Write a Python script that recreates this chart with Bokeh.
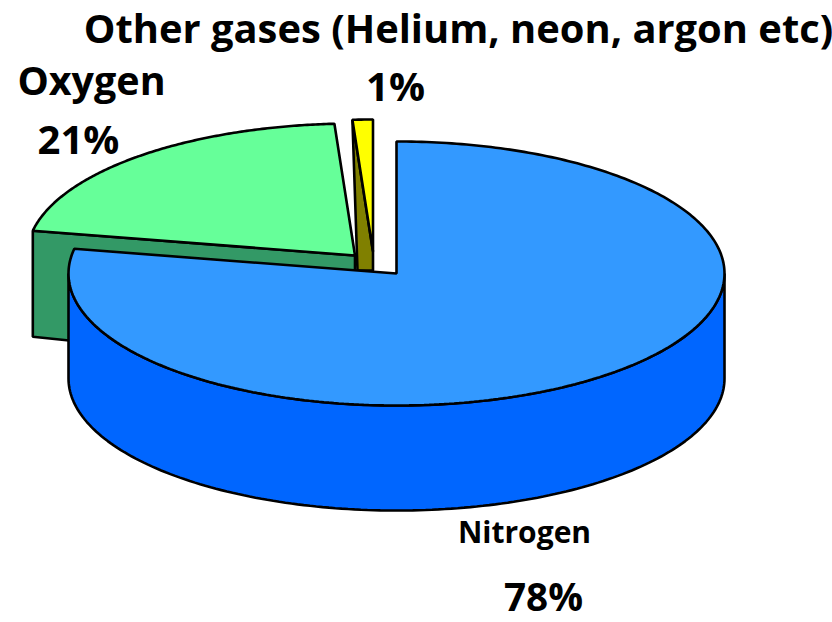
import numpy as np
from bokeh.plotting import figure
from bokeh.embed import file_html
from bokeh.resources import INLINE
from bokeh.core.properties import value
from bokeh.models import Range1d

names = ["Nitrogen", "Oxygen", "Other gases (Helium, neon, argon etc)"]
shares = [78, 21, 1]
top_colors = ["#3399FF", "#66FF99", "#FFFF00"]
side_colors = ["#0066FF", "#339966", "#808000"]
label_texts = ["Nitrogen", "78%", "Oxygen", "21%", "Other gases (Helium, neon, argon etc)", "1%"]

W, H = 832, 622
p = figure(width=W, height=H, output_backend="svg", toolbar_location=None,
           x_range=Range1d(0, W), y_range=Range1d(H, 0), min_border=0)
p.axis.visible = False
p.grid.visible = False
p.outline_line_color = None

RX, RY, DEPTH = 328, 132, 105
centers = [(396, 273), (354.5, 255), (372.5, 251)]
LW = 2.6


def arc(c, a0, a1, n=160):
    t = np.radians(np.linspace(a0, a1, n))
    return c[0] + RX * np.sin(t), c[1] - RY * np.cos(t)


starts = np.cumsum([0] + shares[:-1]) * 3.6
ends = np.cumsum(shares) * 3.6

# Other gases: thin side wall and top
c = centers[2]
ax, ay = arc(c, starts[2], ends[2], 8)
p.patch([ax[0], c[0], c[0], 357], [ay[0], c[1], c[1] + 19, c[1] + 19],
        fill_color=side_colors[2], line_color="black", line_width=LW)
p.patch(list(ax) + [c[0]], list(ay) + [c[1]], fill_color=top_colors[2],
        line_color="black", line_width=LW)

# Oxygen: side wall and top
c = centers[1]
ax, ay = arc(c, starts[1], ends[1])
p.patch([ax[0], ax[0], 100, 100, c[0], c[0]],
        [ay[0], ay[0] + DEPTH + 1, ay[0] + DEPTH + 8, 280, c[1] + 15, c[1]],
        fill_color=side_colors[1], line_color="black", line_width=LW)
p.patch(list(ax) + [c[0]], list(ay) + [c[1]], fill_color=top_colors[1],
        line_color="black", line_width=LW)

# Nitrogen: side wall and top
c = centers[0]
wx, wy = arc(c, 90, 270)
p.patch(list(wx) + list(wx[::-1]), list(wy + DEPTH) + list(wy[::-1]),
        fill_color=side_colors[0], line_color="black", line_width=LW)
tx, ty = arc(c, starts[0], ends[0], 320)
p.patch(list(tx) + [c[0]], list(ty) + [c[1]], fill_color=top_colors[0],
        line_color="black", line_width=LW)

# Labels
lx = [524, 543, 91, 78, 458, 395]
ly = [531, 595, 79, 138, 27, 85]
sizes = ["22.5pt", "29pt", "29.6pt", "30pt", "29.9pt", "30pt"]
for t, x, y, s in zip(label_texts, lx, ly, sizes):
    p.text([x], [y], text=[t], text_font=value("Open Sans"), text_font_style="bold",
           text_font_size=s, text_align="center", text_baseline="middle", text_color="black")

open("out.html", "w").write(file_html(p, INLINE))
